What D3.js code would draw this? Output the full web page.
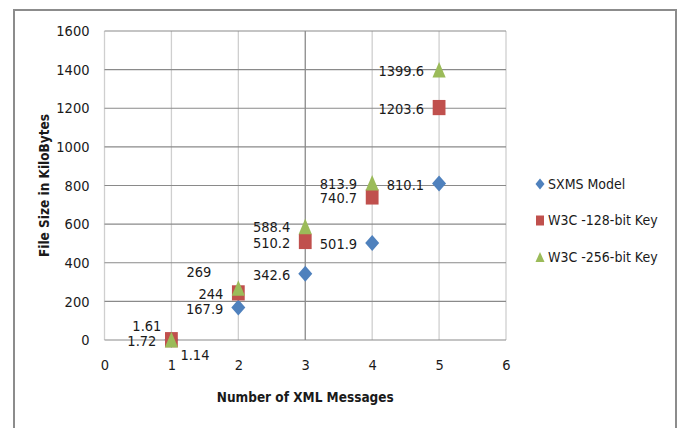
<!DOCTYPE html>
<html>
<head>
<meta charset="utf-8">
<script src="https://cdn.jsdelivr.net/npm/d3@7"></script>
<style>
  body { margin: 0; background: #fff; }
  text { font-family: "Liberation Sans Narrow", "Arial Narrow", "DejaVu Sans Condensed", sans-serif; fill: #1a1a1a; }
</style>
</head>
<body>
<div id="chart-area"></div>
<script>
// data
var messages = [1, 2, 3, 4, 5];
var sxms = [1.14, 167.9, 342.6, 501.9, 810.1];
var w3c128 = [1.61, 244, 510.2, 740.7, 1203.6];
var w3c256 = [1.72, 269, 588.4, 813.9, 1399.6];
var seriesNames = ["SXMS Model", "W3C -128-bit Key", "W3C -256-bit Key"];
var xTicks = [0, 1, 2, 3, 4, 5, 6];
var yTicks = [0, 200, 400, 600, 800, 1000, 1200, 1400, 1600];

var colors = ["#4F81BD", "#C0504D", "#9BBB59"];

// excel-ish markers, a bit taller than wide
function marker(kind, w, h) {
    return { draw: function(ctx) {
        if (kind == "diamond") {
            ctx.moveTo(0, -h); ctx.lineTo(w, 0); ctx.lineTo(0, h); ctx.lineTo(-w, 0);
        } else if (kind == "square") {
            ctx.moveTo(-w, -h); ctx.lineTo(w, -h); ctx.lineTo(w, h); ctx.lineTo(-w, h);
        } else {
            ctx.moveTo(0, -h); ctx.lineTo(w, h); ctx.lineTo(-w, h);
        }
        ctx.closePath();
    }};
}
var shapes = [marker("diamond", 7, 8), marker("square", 6.4, 7.6), marker("triangle", 6.6, 7.8)];
var legendShapes = [marker("diamond", 4.5, 5.5), marker("square", 4, 5), marker("triangle", 4.5, 5)];

// labels that don't sit left of their marker: [series, index] -> [anchor, dx, dy]
var labelMoves = { "0-0": ["start", 9, 15], "1-0": ["end", -10, -14], "2-1": ["end", -27, -16] };

var W = 681, H = 428;
var plotL = 104.5, plotR = 506, plotT = 31, plotB = 340;

var svg = d3.select("#chart-area").append("svg")
    .attr("width", W).attr("height", H);

// outer frame
svg.append("rect")
    .attr("x", 14).attr("y", 10)
    .attr("width", 662).attr("height", 440)
    .attr("fill", "none").attr("stroke", "#8c8c8c").attr("stroke-width", 2);

var x = d3.scaleLinear().domain([0, 6]).range([plotL, plotR]);
var y = d3.scaleLinear().domain([0, 1600]).range([plotB, plotT]);

// gridlines
svg.append("g").selectAll("line").data(xTicks).enter().append("line")
    .attr("x1", function(d){ return x(d); }).attr("x2", function(d){ return x(d); })
    .attr("y1", plotT).attr("y2", plotB)
    .attr("stroke", function(d){ return d == 3 ? "#8a8a8a" : "#cfcfcf"; })
    .attr("stroke-width", 1.3);

svg.append("g").selectAll("line").data(yTicks.slice(1)).enter().append("line")
    .attr("x1", plotL).attr("x2", plotR)
    .attr("y1", function(d){ return y(d); }).attr("y2", function(d){ return y(d); })
    .attr("stroke", "#8a8a8a").attr("stroke-width", 1.2);

svg.append("line")
    .attr("x1", plotL).attr("x2", plotR).attr("y1", y(0)).attr("y2", y(0))
    .attr("stroke", "#8a8a8a").attr("stroke-width", 1.2);

// axes (labels only)
svg.append("g")
    .attr("transform", "translate(" + plotL + ",0)")
    .call(d3.axisLeft(y).tickValues(yTicks).tickFormat(d3.format("d")).tickSize(0).tickPadding(15));
svg.append("g")
    .attr("transform", "translate(0," + plotB + ")")
    .call(d3.axisBottom(x).tickValues(xTicks).tickFormat(d3.format("d")).tickSize(0).tickPadding(20));
svg.selectAll(".domain").remove();
svg.selectAll(".tick text").attr("font-size", "14.5px")
    .attr("font-family", null).style("fill", "#1a1a1a");

// axis titles
svg.append("text")
    .attr("x", (plotL + plotR) / 2).attr("y", 402)
    .attr("text-anchor", "middle")
    .attr("font-size", "13.5px").attr("font-weight", "bold")
    .text("Number of XML Messages");

svg.append("text")
    .attr("transform", "translate(49," + ((plotT + plotB) / 2) + ") rotate(-90)")
    .attr("text-anchor", "middle")
    .attr("font-size", "13.5px").attr("font-weight", "bold")
    .text("File Size in KiloBytes");

// points
var allSeries = [sxms, w3c128, w3c256];
allSeries.forEach(function(vals, s){
    var pts = vals.map(function(v, i){ return { x: messages[i], y: v, s: s, i: i }; });
    svg.append("g").selectAll("path").data(pts).enter().append("path")
        .attr("transform", function(d){ return "translate(" + x(d.x) + "," + y(d.y) + ")"; })
        .attr("d", d3.symbol().type(shapes[s]))
        .attr("fill", colors[s]);
});

// data labels
allSeries.forEach(function(vals, s){
    var pts = vals.map(function(v, i){ return { x: messages[i], y: v, s: s, i: i }; });
    svg.append("g").selectAll("text").data(pts).enter().append("text")
        .attr("x", function(d){
            var m = labelMoves[d.s + "-" + d.i];
            return x(d.x) + (m ? m[1] : -15);
        })
        .attr("y", function(d){
            var m = labelMoves[d.s + "-" + d.i];
            return y(d.y) + (m ? m[2] : 1);
        })
        .attr("dy", "0.35em")
        .attr("text-anchor", function(d){
            var m = labelMoves[d.s + "-" + d.i];
            return m ? m[0] : "end";
        })
        .attr("font-size", "14.5px")
        .text(function(d){ return d.y; });
});

// legend
var legend = svg.append("g").attr("transform", "translate(540,184)");
seriesNames.forEach(function(name, s){
    var row = legend.append("g").attr("transform", "translate(0," + (s * 36.5) + ")");
    row.append("path")
        .attr("d", d3.symbol().type(legendShapes[s]))
        .attr("fill", colors[s]);
    row.append("text")
        .attr("x", 8).attr("dy", "0.35em")
        .attr("font-size", "14px")
        .text(name);
});
</script>
</body>
</html>
